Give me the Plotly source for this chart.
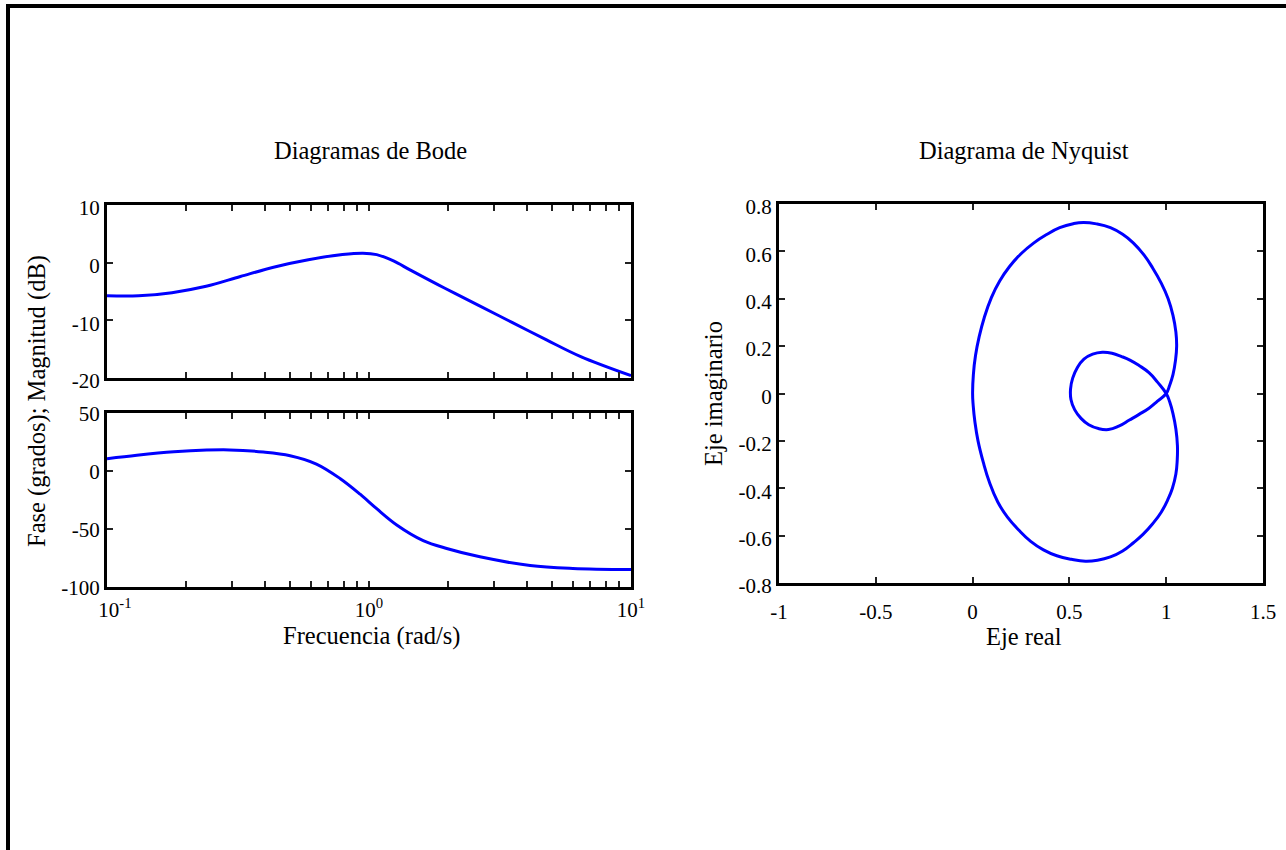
import plotly.graph_objects as go

# ---------------- data ----------------
# Bode magnitude (frequency in rad/s, magnitude in dB)
mag_w = [0.1, 0.132, 0.177, 0.239, 0.323, 0.436, 0.587, 0.792, 0.948, 1.07, 1.24,
         1.44, 1.94, 2.62, 3.53, 4.76, 6.43, 10.0]
mag_db = [-5.75, -5.75, -5.2, -4.1, -2.4, -0.75, 0.5, 1.4, 1.65, 1.4, 0.3,
          -1.3, -4.4, -7.4, -10.4, -13.4, -16.3, -19.6]

# Bode phase (frequency in rad/s, phase in degrees)
ph_w = [0.1, 0.13, 0.18, 0.24, 0.294, 0.395, 0.5, 0.63, 0.775, 0.925, 1.07, 1.276,
        1.61, 1.98, 2.65, 4.12, 6.0, 10.0]
ph_deg = [10.5, 13.5, 16.5, 18.0, 18.2, 16.4, 13.2, 6.0, -6.4, -20.0, -32.5, -46.5,
          -60.0, -66.8, -74.0, -81.5, -84.0, -85.0]

# Nyquist path (real, imaginary): negative frequencies, then positive
nyq_re = [0.000, 0.004, 0.015, 0.034, 0.060, 0.097, 0.140, 0.190, 0.250, 0.315,
          0.380, 0.450, 0.520, 0.573, 0.640, 0.712, 0.775, 0.831, 0.885, 0.930,
          0.975, 1.010, 1.035, 1.050, 1.054, 1.048, 1.035, 1.018, 1.000,
          0.955, 0.911, 0.860, 0.810, 0.755, 0.702, 0.650, 0.600, 0.560, 0.527,
          0.508, 0.506, 0.517, 0.540, 0.575, 0.620, 0.670, 0.720, 0.770, 0.815,
          0.860, 0.911, 0.955, 1.000,
          1.018, 1.035, 1.050, 1.058, 1.057, 1.050, 1.032, 1.010, 0.975, 0.930,
          0.880, 0.831, 0.775, 0.712, 0.645, 0.583, 0.510, 0.435, 0.366, 0.300,
          0.238, 0.180, 0.130, 0.087, 0.055, 0.028, 0.012, 0.003, 0.000]
nyq_im = [0.000, 0.080, 0.160, 0.240, 0.320, 0.405, 0.475, 0.535, 0.590, 0.635,
          0.670, 0.700, 0.717, 0.722, 0.716, 0.700, 0.672, 0.635, 0.585, 0.530,
          0.465, 0.400, 0.330, 0.260, 0.200, 0.140, 0.080, 0.035, 0.000,
          -0.032, -0.062, -0.088, -0.112, -0.138, -0.152, -0.148, -0.132, -0.105, -0.068,
          -0.025, 0.020, 0.065, 0.108, 0.145, 0.166, 0.174, 0.170, 0.156, 0.140,
          0.118, 0.088, 0.048, 0.000,
          -0.035, -0.085, -0.150, -0.220, -0.280, -0.340, -0.400, -0.445, -0.500, -0.550,
          -0.595, -0.630, -0.665, -0.690, -0.704, -0.708, -0.700, -0.685, -0.660, -0.624,
          -0.576, -0.522, -0.458, -0.375, -0.290, -0.200, -0.120, -0.050, 0.000]

# ticks
bode_x_ticks = [0.1, 0.2, 0.3, 0.4, 0.5, 0.6, 0.7, 0.8, 0.9, 1, 2, 3, 4, 5, 6, 7, 8, 9, 10]
bode_x_labels = (["\u00a0\u00a0\u00a010<sup>-1</sup>"] + [""] * 8 + ["10<sup>0</sup>"]
                 + [""] * 8 + ["10<sup>1</sup>"])
mag_ticks = [-20, -10, 0, 10]
mag_labels = ["-20", "-10", "0", "10"]
ph_ticks = [-100, -50, 0, 50]
ph_labels = ["-100", "-50", "0", "50"]
nyq_x_ticks = [-1, -0.5, 0, 0.5, 1, 1.5]
nyq_x_labels = ["-1", "-0.5", "0", "0.5", "1", "1.5"]
nyq_y_ticks = [-0.8, -0.6, -0.4, -0.2, 0, 0.2, 0.4, 0.6, 0.8]
nyq_y_labels = ["-0.8", "-0.6", "-0.4", "-0.2", "0", "0.2", "0.4", "0.6", "0.8"]

# ---------------- figure ----------------
W, H = 1286, 850
FONT = "Liberation Serif, Times New Roman, serif"
BLUE = "#0000FF"


def px(x):
    return x / W


def py(y):
    return 1 - y / H


fig = go.Figure()
line = dict(color=BLUE, width=3, shape="spline", smoothing=1.0)
fig.add_trace(go.Scatter(x=mag_w, y=mag_db, mode="lines", line=line,
                         xaxis="x", yaxis="y", showlegend=False, hoverinfo="skip"))
fig.add_trace(go.Scatter(x=ph_w, y=ph_deg, mode="lines", line=line,
                         xaxis="x2", yaxis="y2", showlegend=False, hoverinfo="skip"))
fig.add_trace(go.Scatter(x=nyq_re, y=nyq_im, mode="lines",
                         line=dict(color=BLUE, width=3, shape="spline", smoothing=1.3),
                         xaxis="x3", yaxis="y3", showlegend=False, hoverinfo="skip"))

axis_common = dict(showline=True, linecolor="black", linewidth=3, mirror="ticks",
                   ticks="inside", ticklen=6, tickwidth=1.5, tickcolor="#222",
                   showgrid=False, zeroline=False, tickmode="array", automargin=False,
                   tickfont=dict(family=FONT, size=21, color="black"))

fig.update_layout(
    width=W, height=H, autosize=False,
    margin=dict(l=0, r=0, t=0, b=0, pad=0, autoexpand=False),
    paper_bgcolor="white", plot_bgcolor="white",
    font=dict(family=FONT, size=21, color="black"),
    xaxis=dict(axis_common, type="log", range=[-1, 1], domain=[px(107), px(631)],
               anchor="y", tickvals=bode_x_ticks, showticklabels=False),
    yaxis=dict(axis_common, range=[-20, 10], domain=[py(378), py(205)], anchor="x",
               tickvals=mag_ticks, ticktext=mag_labels, ticklabelshift=3),
    xaxis2=dict(axis_common, type="log", range=[-1, 1], domain=[px(107), px(631)],
                anchor="y2", tickvals=bode_x_ticks, ticktext=bode_x_labels,
                ticklabelstandoff=2),
    yaxis2=dict(axis_common, range=[-100, 50], domain=[py(587), py(413)], anchor="x2",
                tickvals=ph_ticks, ticktext=ph_labels, ticklabelshift=1),
    xaxis3=dict(axis_common, range=[-1, 1.5], domain=[px(779), px(1263)], anchor="y3",
                tickvals=nyq_x_ticks, ticktext=nyq_x_labels, ticklabelstandoff=8),
    yaxis3=dict(axis_common, range=[-0.8, 0.8], domain=[py(583), py(204)], anchor="x3",
                tickvals=nyq_y_ticks, ticktext=nyq_y_labels, ticklabelshift=3),
)

ann = dict(xref="paper", yref="paper", showarrow=False,
           font=dict(family=FONT, size=24.5, color="black"))
fig.add_annotation(ann, text="Diagramas de Bode", x=px(370), y=py(150),
                   xanchor="center", yanchor="middle")
fig.add_annotation(ann, text="Diagrama de Nyquist", x=px(1024), y=py(150),
                   xanchor="center", yanchor="middle")
fig.add_annotation(ann, text="Frecuencia (rad/s)", x=px(372), y=py(636),
                   xanchor="center", yanchor="middle")
fig.add_annotation(ann, text="Eje real", x=px(1024), y=py(636),
                   xanchor="center", yanchor="middle")
fig.add_annotation(ann, text="Fase (grados); Magnitud (dB)", x=px(37), y=py(401),
                   xanchor="center", yanchor="middle", textangle=-90)
fig.add_annotation(ann, text="Eje imaginario", x=px(713), y=py(394),
                   xanchor="center", yanchor="middle", textangle=-90)

# figure border (top and left black edges)
fig.add_shape(type="line", xref="paper", yref="paper", x0=px(6), x1=1, y0=py(6), y1=py(6),
              line=dict(color="black", width=4))
fig.add_shape(type="line", xref="paper", yref="paper", x0=px(8), x1=px(8), y0=py(4), y1=0,
              line=dict(color="black", width=4))

css_fix = ("document.documentElement.style.margin='0';"
           "document.documentElement.style.padding='0';"
           "document.documentElement.style.overflow='hidden';"
           "document.body.style.margin='0';"
           "document.body.style.padding='0';"
           "document.body.style.overflow='hidden';")
fig.write_html("out.html", config={"displayModeBar": False}, post_script=css_fix)
